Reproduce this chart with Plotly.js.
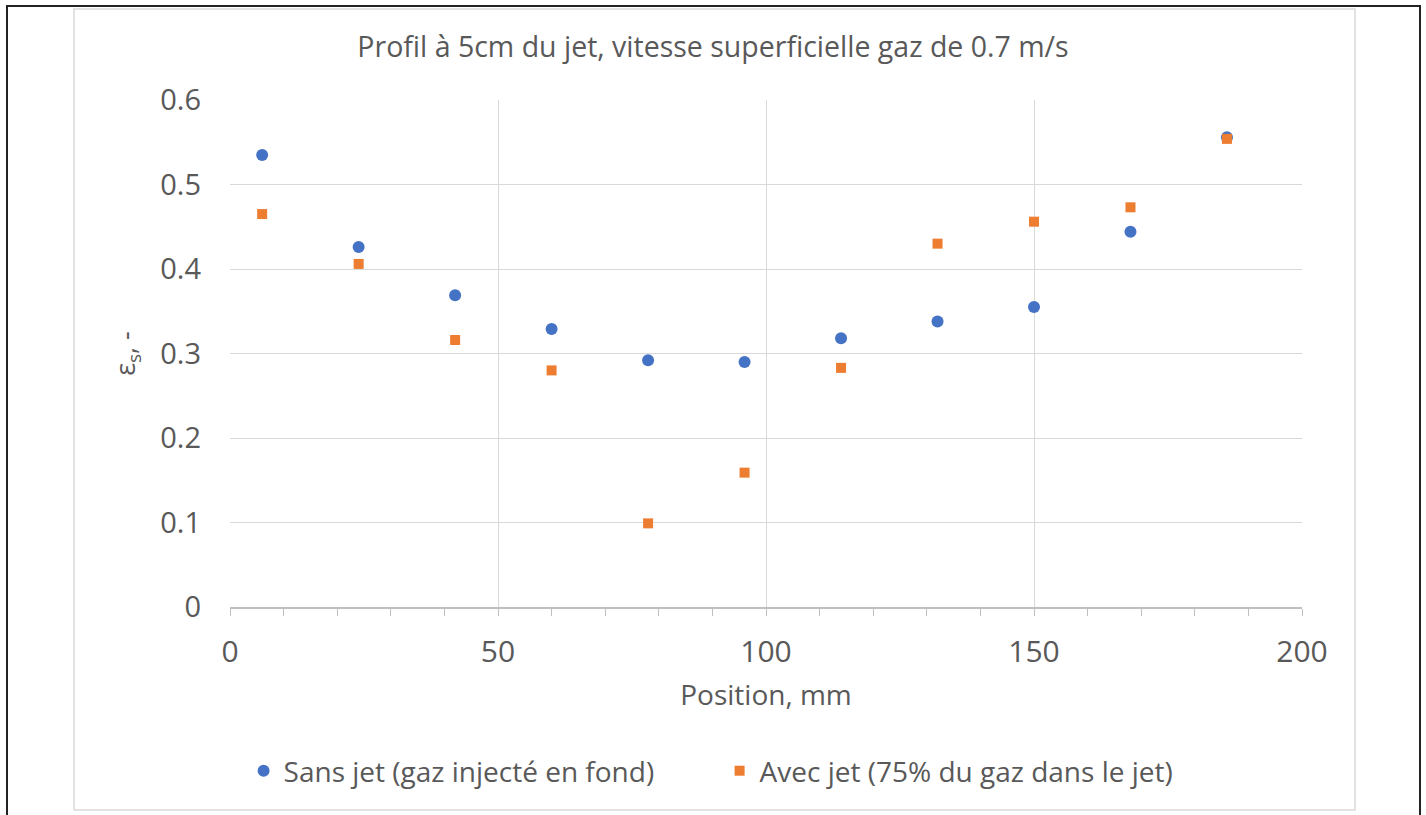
<!DOCTYPE html>
<html>
<head>
<meta charset="utf-8">
<script src="https://cdn.plot.ly/plotly-3.0.1.min.js"></script>
<style>html,body{margin:0;padding:0;background:#fff;}#chart{width:1426px;height:815px;}</style>
</head>
<body>
<div id="chart"></div>
<script>
// Data
const positions = [6, 24, 42, 60, 78, 96, 114, 132, 150, 168, 186];
const sansJet = [0.535, 0.426, 0.369, 0.329, 0.292, 0.290, 0.318, 0.338, 0.355, 0.444, 0.556];
const avecJet = [0.465, 0.406, 0.316, 0.280, 0.099, 0.159, 0.283, 0.430, 0.456, 0.473, 0.554];
const seriesNames = ["Sans jet (gaz injecté en fond)", "Avec jet (75% du gaz dans le jet)"];
const chartTitle = "Profil à 5cm du jet, vitesse superficielle gaz de 0.7 m/s";
const xTitle = "Position, mm";
const yTitle = "ε<sub>s</sub>, -";

const L = 230, R = 1302, T = 100, B = 607;
const px = x => (x - L) / (R - L);
const py = y => (B - y) / (B - T);
const txt = '#595959';
const font = 'Open Sans, "Segoe UI", sans-serif';

const traces = [
  {x: positions, y: sansJet, name: seriesNames[0], type: 'scatter', mode: 'markers',
   marker: {symbol: 'circle', size: 12, color: '#4472C4'}},
  {x: positions, y: avecJet, name: seriesNames[1], type: 'scatter', mode: 'markers',
   marker: {symbol: 'square', size: 10, color: '#ED7D31'}}
];

const layout = {
  width: 1426, height: 815,
  margin: {l: L, r: 1426 - R, t: T, b: 815 - B},
  paper_bgcolor: '#fff', plot_bgcolor: '#fff',
  font: {family: font, color: txt, size: 28},
  title: {text: chartTitle, font: {size: 28.5, color: txt}, x: 0.5, xanchor: 'center', xref: 'container',
    y: 1 - 47/815, yanchor: 'middle', yref: 'container'},
  showlegend: true,
  legend: {orientation: 'h', x: px(719.6), xanchor: 'center', y: py(771), yanchor: 'middle',
    font: {size: 28, color: txt}, itemwidth: 30, tracegroupgap: 0,
    entrywidth: 431, entrywidthmode: 'pixels'},
  xaxis: {range: [0, 200], dtick: 50, tick0: 0, showgrid: true, gridcolor: '#d9d9d9', gridwidth: 1,
    zeroline: false, showline: true, linecolor: '#bfbfbf', linewidth: 1.5,
    ticks: 'outside', ticklen: 7, tickcolor: '#bfbfbf', tickwidth: 1,
    minor: {dtick: 10, ticks: 'outside', ticklen: 7, tickcolor: '#bfbfbf', showgrid: false},
    tickfont: {size: 30, color: txt}, ticklabelstandoff: 10,
    title: {text: xTitle, font: {size: 28, color: txt}, standoff: 16},
    fixedrange: true},
  yaxis: {range: [0, 0.6], dtick: 0.1, tick0: 0, showgrid: true, gridcolor: '#d9d9d9', gridwidth: 1,
    zeroline: false, showline: false, ticks: '', tickformat: '.1~f',
    tickfont: {size: 29, color: txt}, ticklabelstandoff: 28,
    title: {text: yTitle, font: {size: 27, color: txt}, standoff: 16},
    fixedrange: true},
  shapes: [
    {type: 'rect', xref: 'paper', yref: 'paper', x0: px(74), x1: px(1355), y0: py(810), y1: py(9),
     line: {color: '#d9d9d9', width: 1.5}, fillcolor: 'rgba(0,0,0,0)', layer: 'below'},
    {type: 'rect', xref: 'paper', yref: 'paper', x0: px(7), x1: px(1420), y0: py(825), y1: py(6),
     line: {color: '#222', width: 2}, fillcolor: 'rgba(0,0,0,0)', layer: 'below'}
  ]
};

Plotly.newPlot('chart', traces, layout, {displayModeBar: false, staticPlot: true});
</script>
</body>
</html>
